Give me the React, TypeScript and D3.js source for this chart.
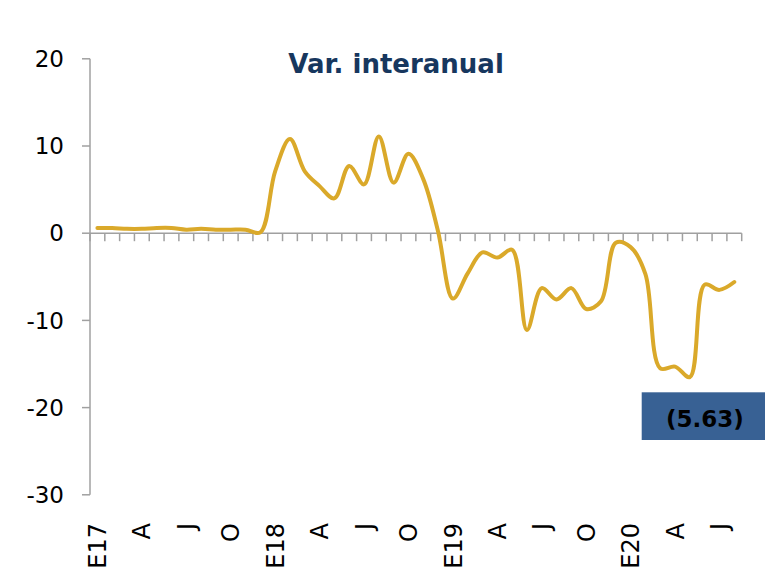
import React from "react";
import * as d3 from "d3";

const months: string[] = [
  "E17","F","M","A","M","J","J","A","S","O","N","D",
  "E18","F","M","A","M","J","J","A","S","O","N","D",
  "E19","F","M","A","M","J","J","A","S","O","N","D",
  "E20","F","M","A","M","J","J","A",
];
const shownLabels: string[] = ["E17","A","J","O","E18","A","J","O","E19","A","J","O","E20","A","J"];
const values: number[] = [
  0.6, 0.6, 0.5, 0.5, 0.6, 0.6, 0.4, 0.5, 0.4, 0.4, 0.4, 0.1,
  7.1, 10.8, 7.1, 5.4, 4.0, 7.7, 5.6, 11.1, 5.8, 9.1, 6.2, 0.2,
  -7.5, -4.6, -2.2, -2.8, -1.9, -11.1, -6.3, -7.6, -6.3, -8.7, -7.8, -1.1,
  -1.6, -4.7, -15.5, -15.3, -16.5, -5.9, -6.5, -5.6,
];
const yTicks: number[] = [20, 10, 0, -10, -20, -30];
const title = "Var. interanual";
const callout = "(5.63)";

export default function App() {
  const W = 765, H = 574;
  const x0 = 90, x1 = 741.7;
  const x = d3.scaleBand<number>().domain(d3.range(months.length)).range([x0, x1]).paddingInner(0).paddingOuter(0);
  const y = d3.scaleLinear().domain([-30, 20]).range([494.8, 58.8]);
  const cx = (i: number) => (x(i) as number) + x.bandwidth() / 2;
  const line = d3.line<number>().x((_, i) => cx(i)).y((d) => y(d)).curve(d3.curveCatmullRom.alpha(0.5));
  const axisColor = "#a0a0a0";
  const font = "'DejaVu Sans', Verdana, sans-serif";
  const y0 = y(0);
  const boundaries = d3.range(months.length + 1).map((i) => x0 + i * x.bandwidth());
  const labelIdx = d3.range(months.length).filter((i) => i % 3 === 0 && i < 43);

  return (
    <svg width={W} height={H} style={{ position: "absolute", left: 0, top: 0, background: "#fff" }}>
      <text x={396} y={73} textAnchor="middle" fontFamily={font} fontWeight="bold" fontSize={26} fill="#17375E">
        {title}
      </text>
      {/* y axis */}
      <line x1={x0} x2={x0} y1={y(20)} y2={y(-30)} stroke={axisColor} strokeWidth={1.5} />
      {yTicks.map((t) => (
        <g key={t}>
          <line x1={x0 - 8} x2={x0} y1={y(t)} y2={y(t)} stroke={axisColor} strokeWidth={1.5} />
          <text x={64} y={y(t)} dy="0.36em" textAnchor="end" fontFamily={font} fontSize={23} fill="#000">
            {t}
          </text>
        </g>
      ))}
      {/* x axis */}
      <line x1={x0} x2={x1} y1={y0} y2={y0} stroke={axisColor} strokeWidth={1.5} />
      {boundaries.map((b, i) => (
        <line key={i} x1={b} x2={b} y1={y0} y2={y0 + 8} stroke={axisColor} strokeWidth={1.5} />
      ))}
      {labelIdx.map((i, k) => (
        <text
          key={i}
          transform={`translate(${cx(i)},523) rotate(-90)`}
          dy="0.36em"
          textAnchor="end"
          fontFamily={font}
          fontSize={24}
          fill="#000"
        >
          {shownLabels[k]}
        </text>
      ))}
      <path d={line(values) || ""} fill="none" stroke="#DAA92A" strokeWidth={4} strokeLinejoin="round" strokeLinecap="round" />
      <rect x={641.7} y={392.3} width={124} height={47.7} fill="#386194" />
      <text x={705} y={426.5} textAnchor="middle" fontFamily={font} fontWeight="bold" fontSize={23} fill="#000">
        {callout}
      </text>
    </svg>
  );
}
